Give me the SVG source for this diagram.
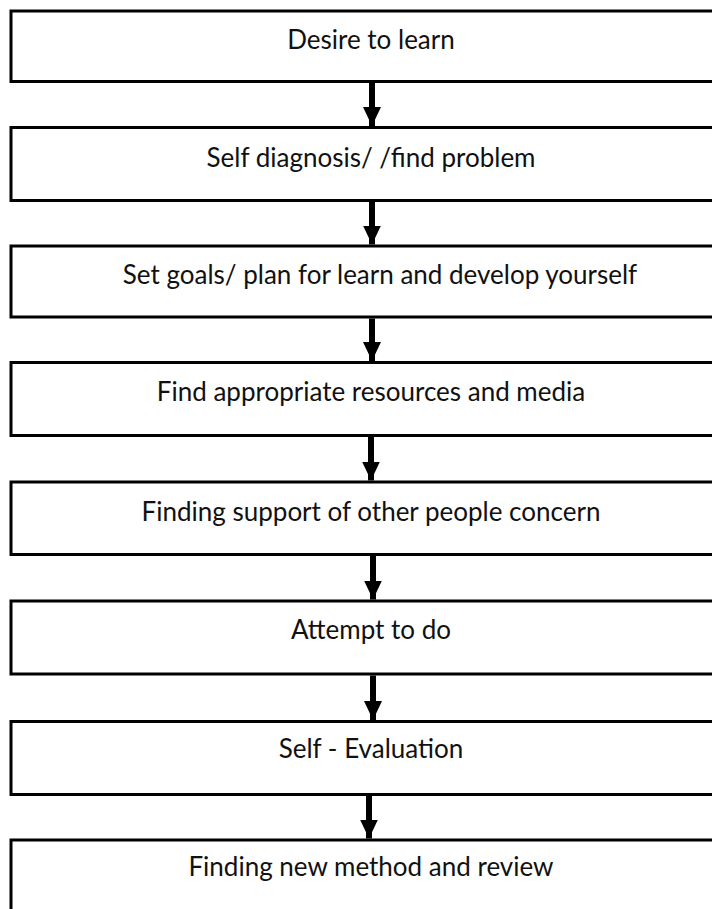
<svg xmlns="http://www.w3.org/2000/svg" width="712" height="909" viewBox="0 0 712 909">
  <style>
    .box { fill: #ffffff; stroke: #000000; stroke-width: 3; }
    .label { font-family: Lato, "Liberation Sans", sans-serif; font-size: 26px; fill: #111111; text-anchor: middle; }
    .arrow { stroke: #000000; stroke-width: 6; fill: none; }
  </style>
  <defs>
    <marker id="head" markerUnits="userSpaceOnUse" markerWidth="18" markerHeight="20" refX="19" refY="9" orient="auto">
      <path d="M0,0 L19,9 L0,18 Z" fill="#000000"/>
    </marker>
  </defs>
  <rect width="712" height="909" fill="#ffffff"/>

  <g id="connectors">
    <line class="arrow" x1="372" y1="83" x2="372" y2="126" marker-end="url(#head)"/>
    <line class="arrow" x1="372" y1="202" x2="372" y2="244.5" marker-end="url(#head)"/>
    <line class="arrow" x1="372" y1="318.5" x2="372" y2="361" marker-end="url(#head)"/>
    <line class="arrow" x1="371" y1="437" x2="371" y2="480.5" marker-end="url(#head)"/>
    <line class="arrow" x1="373" y1="556" x2="373" y2="599.5" marker-end="url(#head)"/>
    <line class="arrow" x1="373" y1="675.5" x2="373" y2="720" marker-end="url(#head)"/>
    <line class="arrow" x1="369" y1="796" x2="369" y2="838.5" marker-end="url(#head)"/>
  </g>

  <g id="n1">
    <rect class="box" x="11" y="11" width="720" height="70.5"/>
    <text class="label" x="371" y="49">Desire to learn</text>
  </g>
  <g id="n2">
    <rect class="box" x="11" y="127.5" width="720" height="73"/>
    <text class="label" x="371" y="167">Self diagnosis/ /find problem</text>
  </g>
  <g id="n3">
    <rect class="box" x="11" y="246" width="720" height="71"/>
    <text class="label" x="380" y="284">Set goals/ plan for learn and develop yourself</text>
  </g>
  <g id="n4">
    <rect class="box" x="11" y="362.5" width="720" height="73"/>
    <text class="label" x="371" y="401">Find appropriate resources and media</text>
  </g>
  <g id="n5">
    <rect class="box" x="11" y="482" width="720" height="72.5"/>
    <text class="label" x="371" y="521">Finding support of other people concern</text>
  </g>
  <g id="n6">
    <rect class="box" x="11" y="601" width="720" height="73"/>
    <text class="label" x="371" y="639">Attempt to do</text>
  </g>
  <g id="n7">
    <rect class="box" x="11" y="721.5" width="720" height="73"/>
    <text class="label" x="371" y="758">Self - Evaluation</text>
  </g>
  <g id="n8">
    <rect class="box" x="11" y="840" width="720" height="80"/>
    <text class="label" x="371" y="876">Finding new method and review</text>
  </g>
</svg>
